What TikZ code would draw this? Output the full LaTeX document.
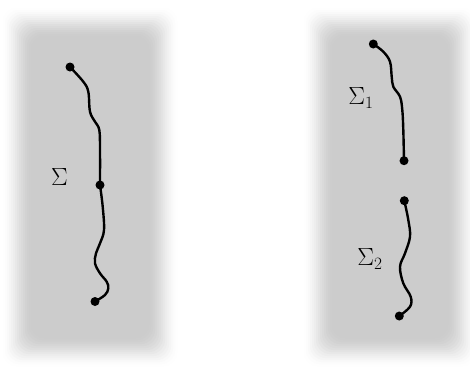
\documentclass[tikz,border=0pt]{standalone}
\usepackage{amsmath,amssymb}
\usepackage{tikz}
\usetikzlibrary{calc,positioning}

\tikzset{
  dot/.style={circle,fill=black,inner sep=0pt,minimum size=9pt},
  curve/.style={line width=2.4pt,line cap=round,line join=round},
}

\begin{document}
\begin{tikzpicture}[x=1pt,y=-1pt,font=\fontsize{26}{30}\selectfont]
\useasboundingbox (0,0) rectangle (470,370);
% blurred gray panels
\foreach \i in {0,...,15} {
  \pgfmathsetmacro{\d}{\i*2}
  \pgfmathsetmacro{\t}{(\i+0.5)/16}
  \pgfmathsetmacro{\v}{20*(3*\t*\t-2*\t*\t*\t)}
  \fill[black!\v,rounded corners=14pt] (1+\d,6+\d) rectangle (179-\d,368-\d);
  \fill[black!\v,rounded corners=14pt] (302+\d,6+\d) rectangle (478-\d,368-\d);
}
% left surface
\node[dot] (a) at (70,67) {};
\node[dot] (m) at (100,185) {};
\node[dot] (b) at (95,301.5) {};
\draw[curve] plot[smooth,tension=0.6] coordinates {(a.center) (83.3,81.7) (88.3,91.7) (90,111.7) (95,121.7) (99.3,130) (100,150) (m.center)};
\draw[curve] plot[smooth,tension=0.6] coordinates {(m.center) (102.7,206.7) (104,230) (100,243.3) (96,253.3) (95,263.3) (100,273.3) (106.7,281.7) (108.3,288.3) (105,295) (b.center)};
\node (sig) at (59.5,177) {$\Sigma$};
% right surfaces
\node[dot] (c) at (373.3,44) {};
\node[dot] (d) at (404,160.7) {};
\node[dot] (e) at (404.3,200.7) {};
\node[dot] (f) at (399.3,316) {};
\draw[curve] plot[smooth,tension=0.6] coordinates {(c.center) (383.3,51.7) (390,61.7) (391.7,76.7) (393.3,86.7) (400,96.7) (402.3,110) (403.3,130) (d.center)};
\draw[curve] plot[smooth,tension=0.6] coordinates {(e.center) (408.3,220) (410,236.7) (405,253.3) (400,266.7) (403.3,283.3) (410.7,296.7) (410,306.7) (f.center)};
\node (sig1) at (361,98) {$\Sigma_1$};
\node (sig2) at (370,259) {$\Sigma_2$};
\end{tikzpicture}
\end{document}
